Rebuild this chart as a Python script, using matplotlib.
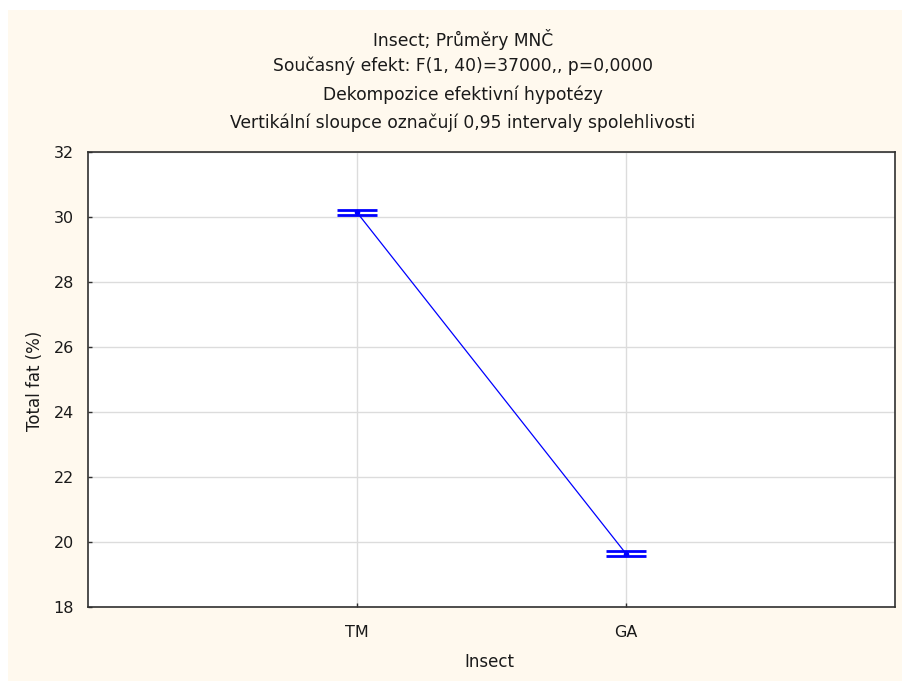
import matplotlib
matplotlib.use('Agg')
import matplotlib.pyplot as plt
from matplotlib.patches import Rectangle

plt.rcParams['font.family'] = ['DejaVu Sans']

# ===== data =====
groups = ["TM", "GA"]
means = [30.14, 19.64]
ci = [0.08, 0.08]
y_ticks = [18, 20, 22, 24, 26, 28, 30, 32]

title_lines = [
    "Insect; Průměry MNČ",
    "Současný efekt: F(1, 40)=37000,, p=0,0000",
    "Dekompozice efektivní hypotézy",
    "Vertikální sloupce označují 0,95 intervaly spolehlivosti",
]

W, H = 903, 681
cream = '#fff9ee'
txt_col = '#1a1a1a'

fig = plt.figure(figsize=(W / 100, H / 100), dpi=100, facecolor=cream)
# white strips at top and left, as in the screenshot
fig.patches.append(Rectangle((0, 1 - 10 / H), 1, 10 / H, transform=fig.transFigure,
                             facecolor='white', edgecolor='none', zorder=-1))
fig.patches.append(Rectangle((0, 0), 8 / W, 1, transform=fig.transFigure,
                             facecolor='white', edgecolor='none', zorder=-1))

# axes box in pixels: left 88, right 895, top 152, bottom 607
ax = fig.add_axes([88 / W, 1 - 607 / H, (895 - 88) / W, (607 - 152) / H])
ax.set_facecolor('white')

x = list(range(1, len(groups) + 1))
ax.plot(x, means, color='#0000ff', lw=0.9, zorder=3)
ax.errorbar(x, means, yerr=ci, fmt='o', ms=3, color='#0000ff',
            ecolor='#0000ff', elinewidth=1, capsize=14.5, capthick=2, zorder=4)

ax.set_xlim(0, len(groups) + 1)
ax.set_ylim(18, 32)
ax.set_xticks(x)
ax.set_xticklabels(groups)
ax.set_yticks(y_ticks)

ax.grid(True, color='#dcdcdc', lw=1)
ax.set_axisbelow(True)
for s in ax.spines.values():
    s.set_color('#303030')
    s.set_linewidth(1.2)
ax.tick_params(direction='in', length=3, width=1, color='#303030',
               labelsize=11.5, labelcolor=txt_col)
ax.tick_params(axis='y', pad=10)
ax.tick_params(axis='x', pad=13)

ax.set_xlabel("Insect", fontsize=12, color=txt_col)
ax.set_ylabel("Total fat (%)", fontsize=12, color=txt_col)
ax.xaxis.set_label_coords((489 - 88) / (895 - 88), -(662 - 607) / (607 - 152))
ax.yaxis.set_label_coords(-(88 - 35) / (895 - 88), (607 - 381) / (607 - 152))
ax.xaxis.label.set_va('center')
ax.yaxis.label.set_va('center')

title_y = [40, 66, 95, 123]
for txt, yp in zip(title_lines, title_y):
    fig.text(463 / W, 1 - yp / H, txt, ha='center', va='center',
             fontsize=12.3, color=txt_col)

fig.savefig('out.png', dpi=100, facecolor=cream)
